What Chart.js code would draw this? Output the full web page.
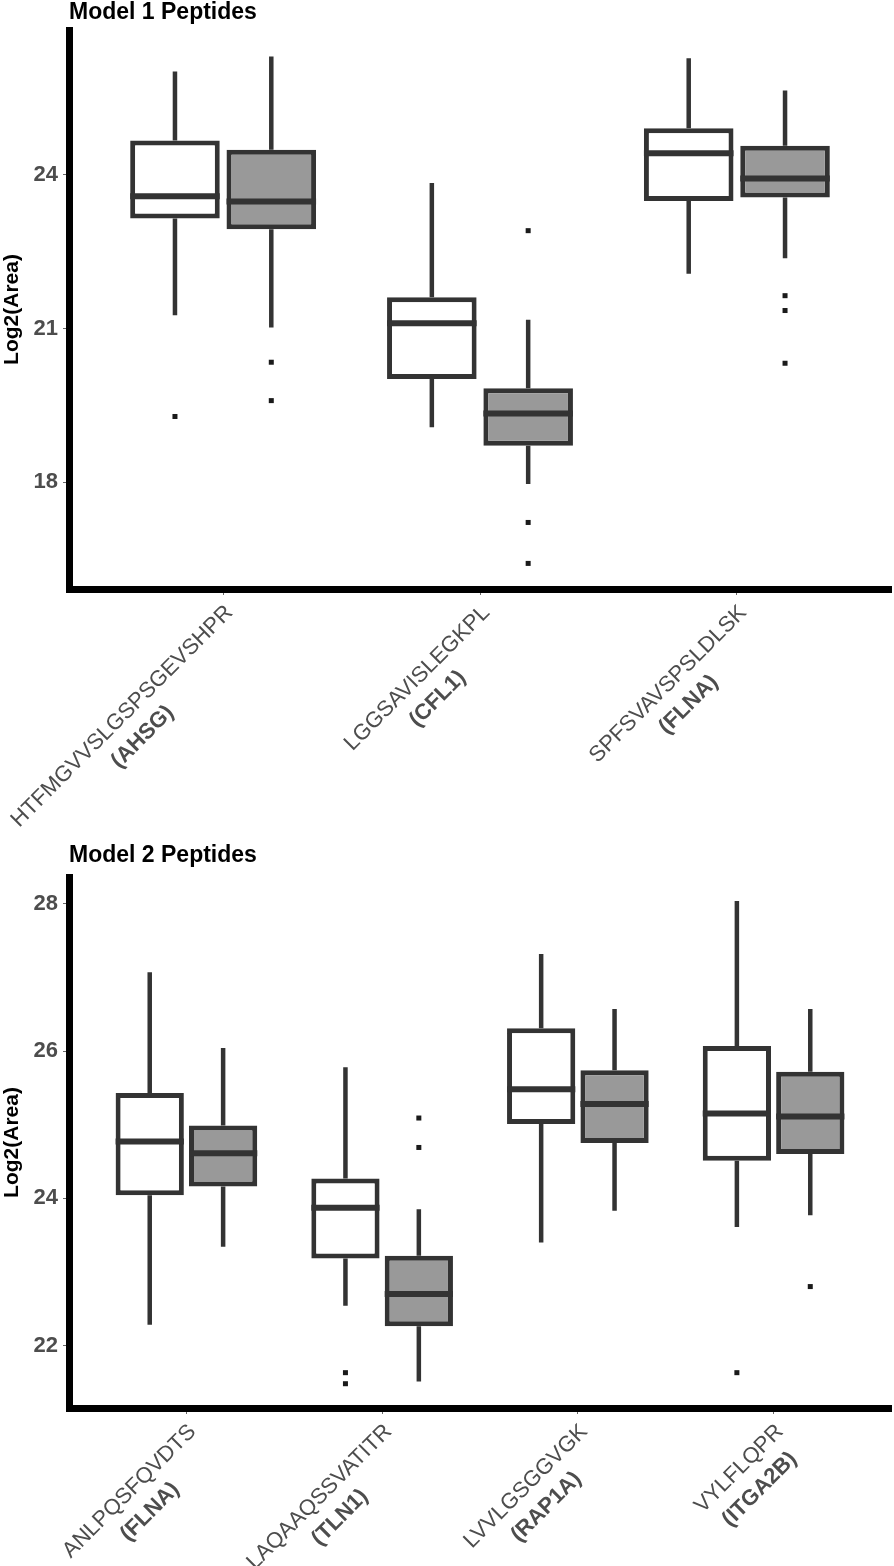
<!DOCTYPE html>
<html>
<head>
<meta charset="utf-8">
<script src="https://cdn.jsdelivr.net/npm/chart.js@4.4.1/dist/chart.umd.min.js"></script>
<style>
  html, body { margin: 0; padding: 0; background: #ffffff; }
  #wrap { position: relative; width: 894px; height: 1566px; overflow: hidden; background: #fff; }
  #wrap canvas { position: absolute; left: 0; }
</style>
</head>
<body>
<div id="wrap">
  <canvas id="c1" width="894" height="843" style="top:0px"></canvas>
  <canvas id="c2" width="894" height="723" style="top:843px"></canvas>
</div>
<script>
// ---------------- Data: Model 1 ----------------
const m1Title = 'Model 1 Peptides';
const m1Peptides = ['HTFMGVVSLGSPSGEVSHPR', 'LGGSAVISLEGKPL', 'SPFSVAVSPSLDLSK'];
const m1Genes = ['(AHSG)', '(CFL1)', '(FLNA)'];
const m1YTicks = [18, 21, 24];

const m1WhiteMin = [21.26, 19.07, 22.07];
const m1WhiteQ1 = [23.15, 20.01, 23.49];
const m1WhiteMed = [23.58, 21.10, 24.42];
const m1WhiteQ3 = [24.67, 21.61, 24.91];
const m1WhiteMax = [26.02, 23.84, 26.28];
const m1WhiteOut = [[19.28], [], []];

const m1GrayMin = [21.02, 17.96, 22.37];
const m1GrayQ1 = [22.94, 18.71, 23.56];
const m1GrayMed = [23.48, 19.34, 23.93];
const m1GrayQ3 = [24.49, 19.83, 24.57];
const m1GrayMax = [26.31, 21.17, 25.65];
const m1GrayOut = [[20.34, 19.59], [22.91, 17.21, 16.41], [21.64, 21.35, 20.32]];

// ---------------- Data: Model 2 ----------------
const m2Title = 'Model 2 Peptides';
const m2Peptides = ['ANLPQSFQVDTS', 'LAQAAQSSVATITR', 'LVVLGSGGVGK', 'VYLFLQPR'];
const m2Genes = ['(FLNA)', '(TLN1)', '(RAP1A)', '(ITGA2B)'];
const m2YTicks = [22, 24, 26, 28];

const m2WhiteMin = [22.28, 22.54, 23.40, 23.61];
const m2WhiteQ1 = [24.04, 23.18, 25.01, 24.51];
const m2WhiteMed = [24.77, 23.87, 25.48, 25.15];
const m2WhiteQ3 = [25.43, 24.27, 26.31, 26.07];
const m2WhiteMax = [27.07, 25.78, 27.32, 28.04];
const m2WhiteOut = [[], [21.63, 21.48], [], [21.63]];

const m2GrayMin = [23.34, 21.51, 23.83, 23.77];
const m2GrayQ1 = [24.16, 22.26, 24.75, 24.60];
const m2GrayMed = [24.61, 22.70, 25.28, 25.11];
const m2GrayQ3 = [24.99, 23.22, 25.74, 25.72];
const m2GrayMax = [26.04, 23.85, 26.57, 26.57];
const m2GrayOut = [[], [25.09, 24.69], [], [22.80]];

// ---------------- Style ----------------
const FONT = "'Liberation Sans', Arial, Helvetica, sans-serif";
const LINE = '#333333';
const GRAY_FILL = '#999999';
const TICK_TEXT = '#4d4d4d';

// Draws whiskers, medians and outliers of each box, using the bar elements and y scale.
const boxExtras = {
  id: 'boxExtras',
  beforeDatasetsDraw(chart) {
    const { ctx } = chart;
    const y = chart.scales.y;
    chart.data.datasets.forEach((ds, d) => {
      const meta = chart.getDatasetMeta(d);
      const st = ds.stats;
      meta.data.forEach((bar, i) => {
        ctx.save();
        ctx.strokeStyle = LINE;
        ctx.lineWidth = 4.5;
        ctx.lineCap = 'butt';
        ctx.beginPath();
        ctx.moveTo(bar.x, y.getPixelForValue(st.q3[i]));
        ctx.lineTo(bar.x, y.getPixelForValue(st.max[i]));
        ctx.moveTo(bar.x, y.getPixelForValue(st.q1[i]));
        ctx.lineTo(bar.x, y.getPixelForValue(st.min[i]));
        ctx.stroke();
        ctx.restore();
      });
    });
  },
  afterDatasetsDraw(chart) {
    const { ctx } = chart;
    const y = chart.scales.y;
    chart.data.datasets.forEach((ds, d) => {
      const meta = chart.getDatasetMeta(d);
      const st = ds.stats;
      meta.data.forEach((bar, i) => {
        ctx.save();
        ctx.strokeStyle = LINE;
        ctx.lineWidth = 6;
        ctx.lineCap = 'butt';
        const ym = y.getPixelForValue(st.med[i]);
        ctx.beginPath();
        ctx.moveTo(bar.x - bar.width / 2, ym);
        ctx.lineTo(bar.x + bar.width / 2, ym);
        ctx.stroke();
        ctx.fillStyle = '#1a1a1a';
        st.out[i].forEach(v => {
          const yo = y.getPixelForValue(v);
          ctx.fillRect(bar.x - 2.5, yo - 2.5, 5, 5);
        });
        ctx.restore();
      });
    });
  }
};

// Two-line rotated category labels (peptide + bold gene name), placed at the x scale ticks.
const xLabels = {
  id: 'xLabels',
  afterDraw(chart, args, opts) {
    const { ctx, chartArea } = chart;
    const x = chart.scales.x;
    const normal = `normal 22px ${FONT}`;
    const bold = `bold 22px ${FONT}`;
    opts.peptides.forEach((pep, i) => {
      const gene = opts.genes[i];
      const px = x.getPixelForValue(i + 1) + opts.dx;
      const py = chartArea.bottom + opts.dy;
      ctx.save();
      ctx.translate(px, py);
      ctx.rotate(-opts.angle * Math.PI / 180);
      ctx.font = normal;
      const w1 = ctx.measureText(pep).width;
      ctx.font = bold;
      const w2 = ctx.measureText(gene).width;
      const W = Math.max(w1, w2);
      ctx.fillStyle = TICK_TEXT;
      ctx.textAlign = 'center';
      ctx.textBaseline = 'middle';
      ctx.font = normal;
      ctx.fillText(pep, -W / 2, opts.lineH / 2);
      ctx.font = bold;
      ctx.fillText(gene, -W / 2, opts.lineH * 1.5);
      ctx.restore();
    });
  }
};

function boxDataset(label, fill, stats) {
  return {
    label,
    data: stats.q1.map((q, i) => ({ x: i + 1, y: [q, stats.q3[i]] })),
    backgroundColor: fill,
    borderColor: LINE,
    borderWidth: 5,
    borderSkipped: false,
    categoryPercentage: 0.75,
    barPercentage: 0.93,
    stats
  };
}

function buildPanel(canvasId, p) {
  const n = p.peptides.length;
  return new Chart(document.getElementById(canvasId), {
    type: 'bar',
    data: {
      datasets: [
        boxDataset('White', '#ffffff', p.white),
        boxDataset('Gray', GRAY_FILL, p.gray)
      ]
    },
    options: {
      responsive: false,
      animation: false,
      events: [],
      layout: { padding: { left: 0, right: 3, top: 0, bottom: 0 } },
      scales: {
        x: {
          type: 'linear',
          offset: false,
          min: 0.4,
          max: n + 0.6,
          afterBuildTicks: s => { s.ticks = p.peptides.map((_, i) => ({ value: i + 1 })); },
          afterFit: s => { s.height = p.xAxisSpace; },
          ticks: { display: false },
          grid: { display: true, offset: false, drawOnChartArea: false, drawTicks: true, tickLength: 6, tickWidth: 1, tickColor: '#666' },
          border: { display: true, color: '#000000', width: 7 }
        },
        y: {
          type: 'linear',
          min: p.yMin,
          max: p.yMax,
          afterBuildTicks: s => { s.ticks = p.yTicks.map(v => ({ value: v })); },
          afterFit: s => { s.width = 69; },
          ticks: { color: TICK_TEXT, padding: 5, font: { family: FONT, size: 22, weight: 'bold' } },
          grid: { display: true, drawOnChartArea: false, drawTicks: true, tickLength: 6, tickWidth: 1, tickColor: '#666' },
          border: { display: true, color: '#000000', width: 7 },
          title: {
            display: true, text: 'Log2(Area)', color: '#000000',
            font: { family: FONT, size: 21, weight: 'bold', lineHeight: 1.2 },
            padding: { top: 0, bottom: 0 }
          }
        }
      },
      plugins: {
        legend: { display: false },
        tooltip: { enabled: false },
        title: {
          display: true, text: p.title, align: 'start', fullSize: false, color: '#000000',
          font: { family: FONT, size: 23, weight: 'bold', lineHeight: 1.1 },
          padding: { top: 0, bottom: p.titleGap }
        },
        xLabels: { peptides: p.peptides, genes: p.genes, angle: 45, dx: -4, dy: 10, lineH: 29 }
      }
    },
    plugins: [boxExtras, xLabels]
  });
}

buildPanel('c1', {
  title: m1Title, peptides: m1Peptides, genes: m1Genes, yTicks: m1YTicks,
  yMin: 15.91, yMax: 26.83, titleGap: 4.7, xAxisSpace: 843 - 589,
  white: { min: m1WhiteMin, q1: m1WhiteQ1, med: m1WhiteMed, q3: m1WhiteQ3, max: m1WhiteMax, out: m1WhiteOut },
  gray: { min: m1GrayMin, q1: m1GrayQ1, med: m1GrayMed, q3: m1GrayQ3, max: m1GrayMax, out: m1GrayOut }
});

buildPanel('c2', {
  title: m2Title, peptides: m2Peptides, genes: m2Genes, yTicks: m2YTicks,
  yMin: 21.15, yMax: 28.365, titleGap: 8.7, xAxisSpace: 723 - 565,
  white: { min: m2WhiteMin, q1: m2WhiteQ1, med: m2WhiteMed, q3: m2WhiteQ3, max: m2WhiteMax, out: m2WhiteOut },
  gray: { min: m2GrayMin, q1: m2GrayQ1, med: m2GrayMed, q3: m2GrayQ3, max: m2GrayMax, out: m2GrayOut }
});
</script>
</body>
</html>
